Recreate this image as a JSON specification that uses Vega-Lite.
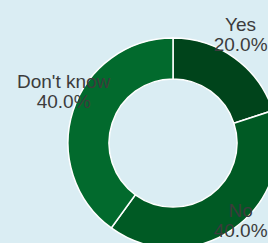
{
  "$schema": "https://vega.github.io/schema/vega-lite/v6.json",
  "width": 190,
  "height": 200,
  "autosize": {"type": "none"},
  "padding": {"left": 78, "top": 43, "right": 0, "bottom": 0},
  "background": "#daedf3",
  "config": {"view": {"stroke": null}},
  "data": {
    "values": [
      {"answer": "Yes", "share": 20.0, "order": 1},
      {"answer": "No", "share": 40.0, "order": 2},
      {"answer": "Don't know", "share": 40.0, "order": 3}
    ]
  },
  "encoding": {
    "theta": {"field": "share", "type": "quantitative", "stack": true},
    "order": {"field": "order", "type": "quantitative"}
  },
  "layer": [
    {
      "mark": {"type": "arc", "outerRadius": 105, "innerRadius": 64, "stroke": "#ffffff", "strokeWidth": 1.5},
      "encoding": {
        "color": {
          "field": "answer",
          "type": "nominal",
          "scale": {"domain": ["Yes", "No", "Don't know"], "range": ["#00441b", "#005a24", "#026a2d"]},
          "legend": null
        }
      }
    },
    {
      "mark": {"type": "text", "radius": 115, "dy": -25, "fontSize": 19, "lineHeight": 20, "font": "Liberation Sans", "color": "#3c3c3c", "align": "center", "baseline": "middle"},
      "encoding": {
        "text": {"field": "label"}
      },
      "transform": [
        {"calculate": "[datum.answer, format(datum.share, '.1f') + '%']", "as": "label"}
      ]
    }
  ]
}
